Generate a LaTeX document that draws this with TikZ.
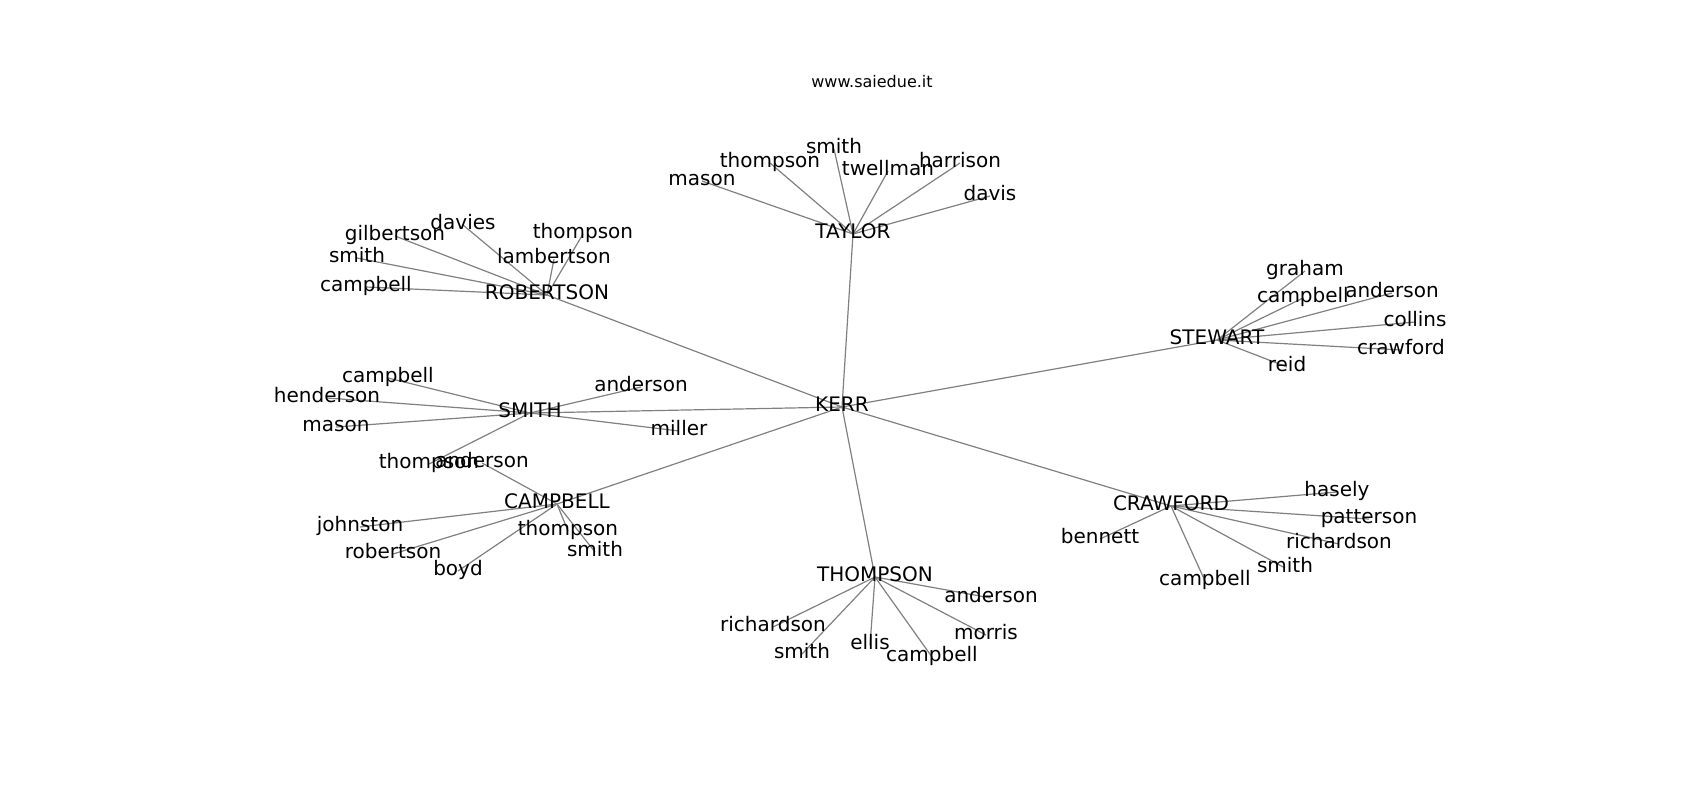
\documentclass[tikz,border=0pt]{standalone}
\usepackage{fontspec}
\setmainfont{DejaVu Sans}
\usetikzlibrary{backgrounds}
\tikzset{
  lbl/.style={inner sep=0pt, text height=1.11em, text depth=0.24em, anchor=center,
    font=\fontsize{20}{24}\selectfont, text=black},
  edge/.style={draw=black!50, line width=1.2pt},
  ttl/.style={inner sep=0pt, font=\fontsize{16}{19}\selectfont, text=black}
}
\begin{document}
\begin{tikzpicture}[x=1pt,y=-1pt]
\useasboundingbox (0,0) rectangle (1700,800);
\node[ttl] (title) at (872,82) {www.saiedue.it};
% hubs
\node[lbl] (kerr) at (842,407) {KERR};
\node[lbl] (taylor) at (853,234) {TAYLOR};
\node[lbl] (rob) at (547,295) {ROBERTSON};
\node[lbl] (smi) at (530,413) {SMITH};
\node[lbl] (camp) at (557,504) {CAMPBELL};
\node[lbl] (stew) at (1217,340) {STEWART};
\node[lbl] (craw) at (1171,506) {CRAWFORD};
\node[lbl] (thom) at (875,577) {THOMPSON};
% taylor leaves
\node[lbl] (ta1) at (702,181) {mason};
\node[lbl] (ta2) at (770,163) {thompson};
\node[lbl] (ta3) at (834,149) {smith};
\node[lbl] (ta4) at (888,171) {twellman};
\node[lbl] (ta5) at (960,163) {harrison};
\node[lbl] (ta6) at (990,196) {davis};
% robertson leaves
\node[lbl] (ro1) at (395,236) {gilbertson};
\node[lbl] (ro2) at (463,225) {davies};
\node[lbl] (ro3) at (583,234) {thompson};
\node[lbl] (ro4) at (357,258) {smith};
\node[lbl] (ro5) at (554,259) {lambertson};
\node[lbl] (ro6) at (366,287) {campbell};
% smith leaves
\node[lbl] (sm1) at (388,378) {campbell};
\node[lbl] (sm2) at (327,398) {henderson};
\node[lbl] (sm3) at (336,427) {mason};
\node[lbl] (sm4) at (429,464) {thompson};
\node[lbl] (sm5) at (641,387) {anderson};
\node[lbl] (sm6) at (679,431) {miller};
% campbell leaves
\node[lbl] (ca1) at (482,463) {anderson};
\node[lbl] (ca2) at (360,527) {johnston};
\node[lbl] (ca3) at (393,554) {robertson};
\node[lbl] (ca4) at (458,571) {boyd};
\node[lbl] (ca5) at (568,531) {thompson};
\node[lbl] (ca6) at (595,552) {smith};
% stewart leaves
\node[lbl] (st1) at (1305,271) {graham};
\node[lbl] (st2) at (1303,298) {campbell};
\node[lbl] (st3) at (1392,293) {anderson};
\node[lbl] (st4) at (1415,322) {collins};
\node[lbl] (st5) at (1401,350) {crawford};
\node[lbl] (st6) at (1287,367) {reid};
% crawford leaves
\node[lbl] (cr1) at (1337,492) {hasely};
\node[lbl] (cr2) at (1369,519) {patterson};
\node[lbl] (cr3) at (1339,544) {richardson};
\node[lbl] (cr4) at (1285,568) {smith};
\node[lbl] (cr5) at (1205,581) {campbell};
\node[lbl] (cr6) at (1100,539) {bennett};
% thompson leaves
\node[lbl] (th1) at (991,598) {anderson};
\node[lbl] (th2) at (773,627) {richardson};
\node[lbl] (th3) at (802,654) {smith};
\node[lbl] (th4) at (870,645) {ellis};
\node[lbl] (th5) at (932,657) {campbell};
\node[lbl] (th6) at (986,635) {morris};
\begin{pgfonlayer}{background}
\foreach \a/\b in {kerr/taylor,kerr/rob,kerr/smi,kerr/camp,kerr/stew,kerr/craw,kerr/thom,
  taylor/ta1,taylor/ta2,taylor/ta3,taylor/ta4,taylor/ta5,taylor/ta6,
  rob/ro1,rob/ro2,rob/ro3,rob/ro4,rob/ro5,rob/ro6,
  smi/sm1,smi/sm2,smi/sm3,smi/sm4,smi/sm5,smi/sm6,
  camp/ca1,camp/ca2,camp/ca3,camp/ca4,camp/ca5,camp/ca6,
  stew/st1,stew/st2,stew/st3,stew/st4,stew/st5,stew/st6,
  craw/cr1,craw/cr2,craw/cr3,craw/cr4,craw/cr5,craw/cr6,
  thom/th1,thom/th2,thom/th3,thom/th4,thom/th5,thom/th6}
  \draw[edge] (\a.center) -- (\b.center);
\end{pgfonlayer}
\end{tikzpicture}
\end{document}
